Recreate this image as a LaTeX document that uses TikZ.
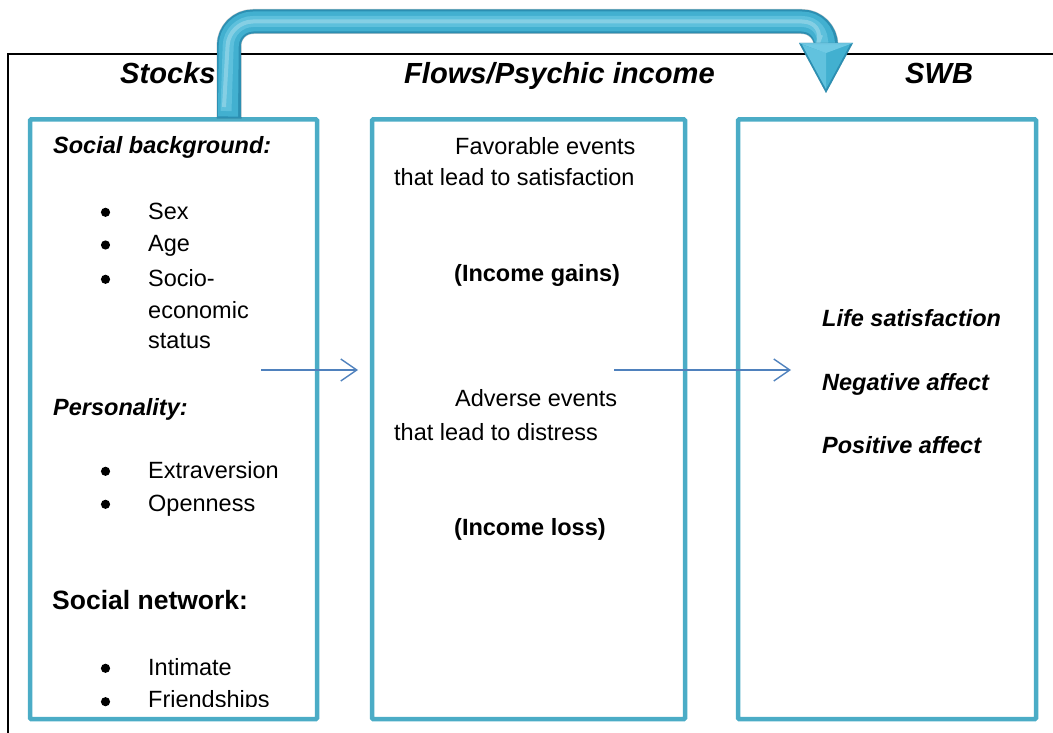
\documentclass[tikz,border=0pt]{standalone}
\usepackage{fontspec}
\setmainfont{Liberation Sans}
\usetikzlibrary{arrows.meta}
\definecolor{boxc}{RGB}{75,172,198}
\definecolor{arrc}{RGB}{79,129,189}
\definecolor{pipemain}{RGB}{66,176,208}
\definecolor{pipedark}{RGB}{44,143,178}
\definecolor{pipelight}{RGB}{128,212,236}
\begin{document}
\begin{tikzpicture}[x=1pt,y=-1pt,
  panel/.style={draw=boxc,line width=4.5pt,rounded corners=1pt,inner sep=0pt,outer sep=0pt,anchor=north west},
  ttl/.style={anchor=base west,inner sep=0pt,font=\fontsize{29.1}{30}\selectfont\bfseries\itshape},
  body/.style={anchor=base west,inner sep=0pt,font=\fontsize{23.5}{32.4}\selectfont},
  bodyb/.style={anchor=base west,inner sep=0pt,font=\fontsize{23.5}{32.4}\selectfont\bfseries},
  bodybi/.style={anchor=base west,inner sep=0pt,font=\fontsize{23.5}{32.4}\selectfont\bfseries\itshape},
  bigb/.style={anchor=base west,inner sep=0pt,font=\fontsize{26.5}{30}\selectfont\bfseries},
  thinarrow/.style={draw=arrc,line width=1.4pt,-{Straight Barb[length=16pt,width=22pt,line width=1.4pt]}},
  pipe/.style={rounded corners=24pt,line join=round},
  bul/.style={fill=black},
]
\useasboundingbox (0,0) rectangle (1053,733);
% outer frame
\draw[line width=1.5pt] (8,733) -- (8,54) -- (1053,54);

% titles
\node[ttl] (tStocks) at (120,83.3) {Stocks};
\node[ttl] (tFlows) at (404,83.3) {Flows/Psychic income};
\node[ttl] (tSWB) at (905,83.3) {SWB};

% panels
\node[panel,minimum width=287pt,minimum height=599.5pt] (b1) at (30,119.5) {};
\node[panel,minimum width=313pt,minimum height=599.5pt] (b2) at (372,119.5) {};
\node[panel,minimum width=298pt,minimum height=599.5pt] (b3) at (738,119.5) {};

% left panel text
\node[bodybi] (sb) at (53,154) {Social background:};
\fill[bul] (105.5,212.3) circle (4.6);
\node[body] (sex) at (148,219) {Sex};
\fill[bul] (105.5,245) circle (4.6);
\node[body] (age) at (148,251.7) {Age};
\fill[bul] (105.5,279.3) circle (4.6);
\node[body] (soc1) at (148,286) {Socio-};
\node[body] (soc2) at (148,318.3) {economic};
\node[body] (soc3) at (148,348.6) {status};
\node[bodybi] (pers) at (53,415) {Personality:};
\fill[bul] (105.5,471.3) circle (4.6);
\node[body] (extra) at (148,478) {Extraversion};
\fill[bul] (105.5,504.3) circle (4.6);
\node[body] (open) at (148,511) {Openness};
\node[bigb] (sn) at (52,609) {Social network:};
\fill[bul] (105.5,668.3) circle (4.6);
\node[body] (intim) at (148,675) {Intimate};
\fill[bul] (105.5,701.7) circle (4.6);
\begin{scope}
\clip (32,640) rectangle (315,706);
\node[body] (friend) at (148,707.5) {Friendships};
\end{scope}

% middle panel text
\node[body] (fav1) at (455,154.3) {Favorable events};
\node[body] (fav2) at (394,185.8) {that lead to satisfaction};
\node[bodyb] (gain) at (454,281.7) {(Income gains)};
\node[body] (adv1) at (455,406.7) {Adverse events};
\node[body] (adv2) at (394,440) {that lead to distress};
\node[bodyb] (loss) at (454,535) {(Income loss)};

% right panel text
\node[bodybi] (life) at (822,326) {Life satisfaction};
\node[bodybi] (neg) at (822,390) {Negative affect};
\node[bodybi] (pos) at (822,453.3) {Positive affect};

% thin arrows
\coordinate (a1s) at (261,370);
\coordinate (a1e) at (358,370);
\coordinate (a2s) at (614,370);
\coordinate (a2e) at (791,370);
\draw[thinarrow] (a1s) -- (a1e);
\draw[thinarrow] (a2s) -- (a2e);

% big 3D arrow from Stocks to SWB
\coordinate (ps) at (229,118.5);
\coordinate (pc1) at (229,21.5);
\coordinate (pc2) at (826,21.5);
\coordinate (pe) at (826,47);
\draw[pipe,line width=25pt,black,opacity=.2,xshift=1.5pt,yshift=-2.5pt] (ps) -- (pc1) -- (pc2) -- (pe);
\draw[pipe,line width=24pt,pipedark] (ps) -- (pc1) -- (pc2) -- (pe);
\draw[pipe,line width=20pt,pipemain,xshift=-1pt,yshift=1pt] (229,117.5) -- (pc1) -- (pc2) -- (826,46);
\draw[pipe,line width=11pt,pipelight,opacity=.45,xshift=-3pt,yshift=3pt] (229,114) -- (pc1) -- (pc2) -- (826,43);
\draw[pipe,line width=4pt,white,opacity=.25,xshift=-5pt,yshift=5pt] (229,112) -- (pc1) -- (pc2) -- (826,40);
% arrowhead
\coordinate (hl) at (799,43);
\coordinate (hr) at (853,43);
\coordinate (ht) at (826,93);
\fill[black,opacity=.2,xshift=1.5pt,yshift=-2.5pt] (hl) -- (hr) -- (ht) -- cycle;
\fill[pipedark] (hl) -- (hr) -- (ht) -- cycle;
\fill[pipemain] (802,44.5) -- (850,44.5) -- (826,89) -- cycle;
\fill[pipelight,opacity=.5] (802,44.5) -- (826,53) -- (826,89) -- cycle;
\fill[pipelight,opacity=.75] (799,43) -- (853,43) -- (826,53) -- cycle;
\end{tikzpicture}
\end{document}
